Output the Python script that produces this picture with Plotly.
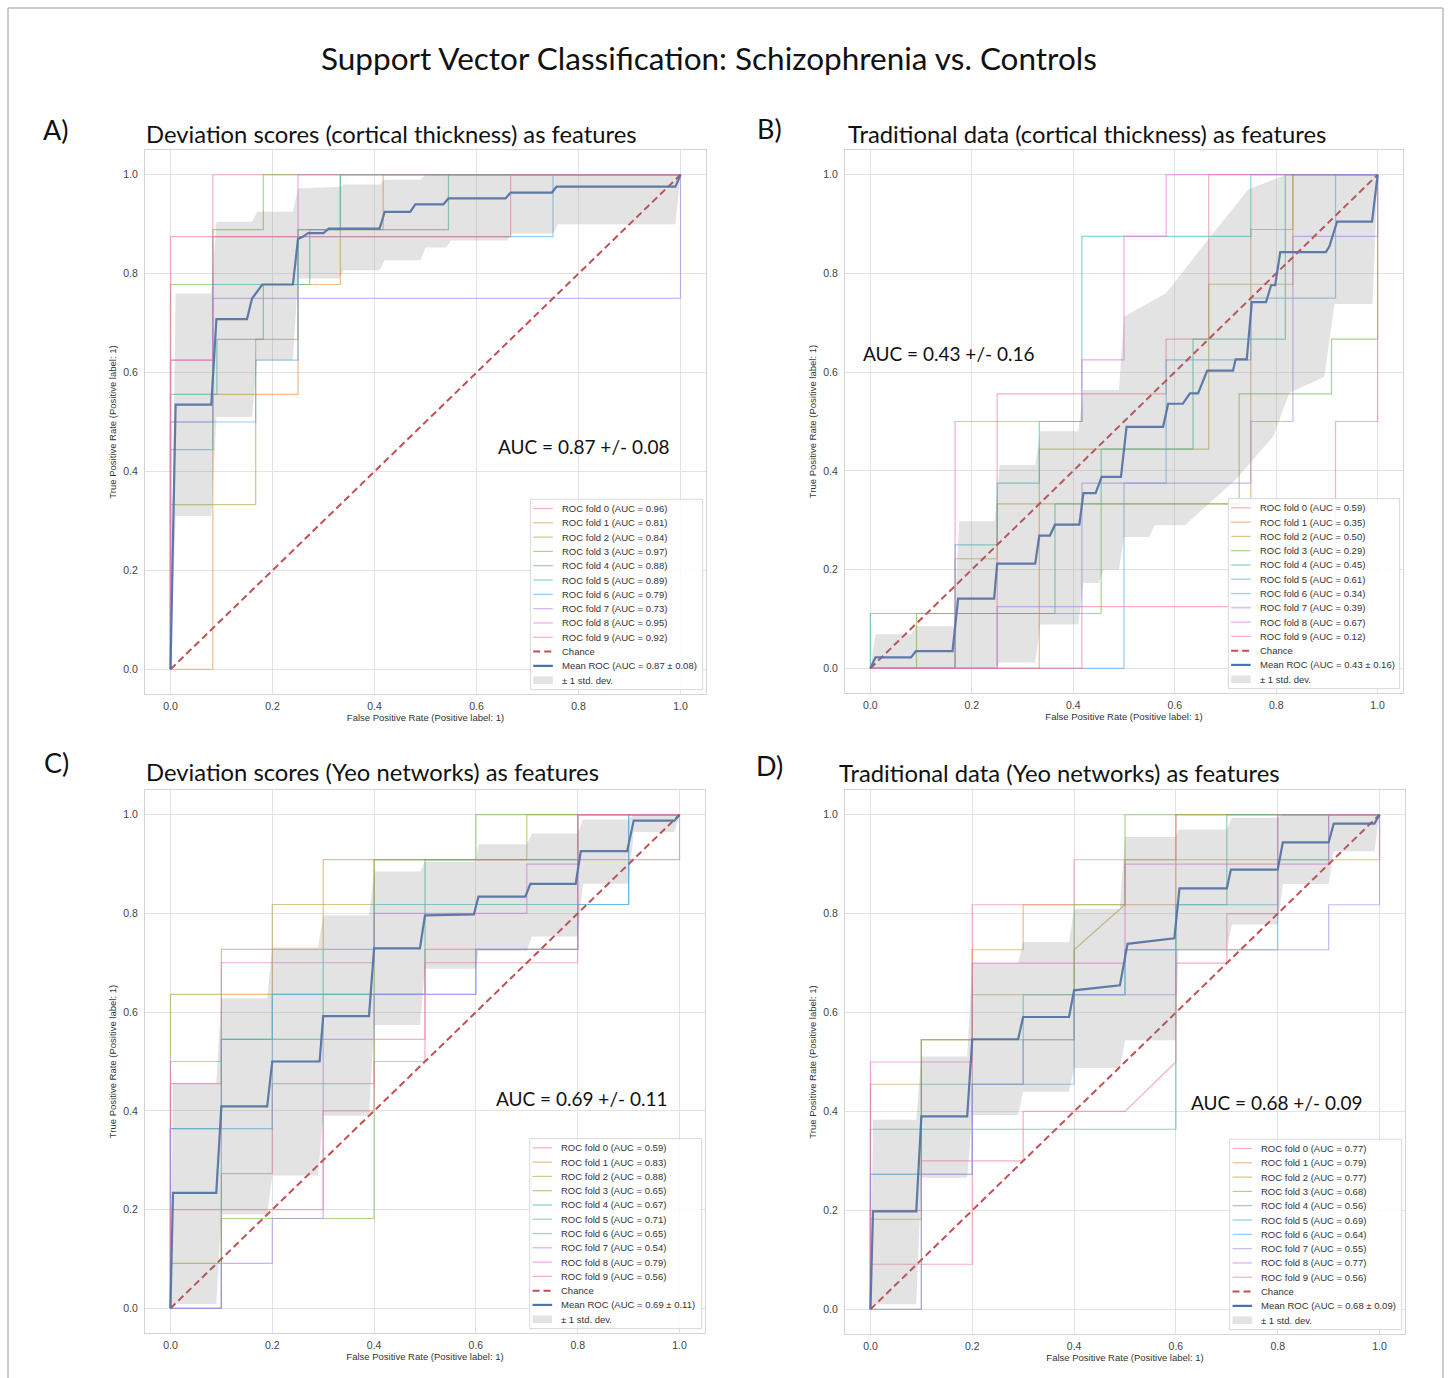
import plotly.graph_objects as go

W, H = 1448, 1378

TICKS = [0.0, 0.2, 0.4, 0.6, 0.8, 1.0]
TICK_LABELS = ["0.0", "0.2", "0.4", "0.6", "0.8", "1.0"]
FOLD_COLORS = ["#f27c92", "#e0903e", "#b3a443", "#6fbc48", "#3db98a", "#3bbabf",
               "#55aae8", "#a987f0", "#ea6fdc", "#f4799a"]
MEAN_COLOR = "#4c72b0"
CHANCE_COLOR = "#c44e52"
CHANCE_X = [0, 1]
CHANCE_Y = [0, 1]

# ---------------- Panel A: deviation scores (cortical thickness) ----------------
A_fpr = [
    [0, 0, 0.083, 0.083, 1],
    [0, 0.083, 0.083, 0.25, 0.25, 0.333, 0.333, 0.417, 0.417, 1],
    [0, 0, 0.167, 0.167, 0.25, 0.25, 0.333, 0.333, 1],
    [0, 0, 0.083, 0.083, 0.182, 0.182, 1],
    [0, 0, 0.091, 0.091, 0.182, 0.182, 0.273, 0.273, 0.545, 0.545, 1],
    [0, 0, 0.083, 0.083, 0.25, 0.25, 0.333, 0.333, 1],
    [0, 0, 0.167, 0.167, 0.25, 0.25, 0.75, 0.75, 1],
    [0, 0, 0.083, 0.083, 1, 1],
    [0, 0, 0.083, 0.083, 0.25, 0.25, 1],
    [0, 0, 0.667, 0.667, 1],
]
A_tpr = [
    [0, 0.625, 0.625, 1, 1],
    [0, 0, 0.556, 0.556, 0.778, 0.778, 0.889, 0.889, 1, 1],
    [0, 0.333, 0.333, 0.667, 0.667, 0.889, 0.889, 1, 1],
    [0, 0.778, 0.778, 0.889, 0.889, 1, 1],
    [0, 0.556, 0.556, 0.667, 0.667, 0.778, 0.778, 0.889, 0.889, 1, 1],
    [0, 0.444, 0.444, 0.778, 0.778, 0.889, 0.889, 1, 1],
    [0, 0.5, 0.5, 0.625, 0.625, 0.875, 0.875, 1, 1],
    [0, 0.5, 0.5, 0.75, 0.75, 1],
    [0, 0.625, 0.625, 0.875, 0.875, 1, 1],
    [0, 0.875, 0.875, 1, 1],
]
A_mean_x = [0, 0.01, 0.08, 0.09, 0.15, 0.16, 0.18, 0.24, 0.25, 0.26, 0.27, 0.30, 0.31, 0.41, 0.42,
            0.47, 0.48, 0.535, 0.545, 0.657, 0.667, 0.748, 0.757, 0.99, 1.0]
A_mean_y = [0, 0.535, 0.535, 0.708, 0.708, 0.75, 0.778, 0.778, 0.87, 0.875, 0.882, 0.882, 0.891, 0.891, 0.925,
            0.925, 0.94, 0.94, 0.952, 0.952, 0.964, 0.964, 0.976, 0.976, 1.0]
A_hi_x = [0, 0.01, 0.08, 0.09, 0.16, 0.17, 0.24, 0.25, 0.33, 0.34, 0.41, 0.42, 0.49, 0.5, 1.0]
A_hi_y = [0, 0.76, 0.76, 0.905, 0.905, 0.925, 0.925, 0.972, 0.975, 0.98, 0.98, 0.99, 0.99, 1.0, 1.0]
A_lo_x = [0, 0.01, 0.08, 0.09, 0.16, 0.17, 0.24, 0.25, 0.33, 0.34, 0.41, 0.42, 0.49, 0.5, 0.54, 0.55,
          0.66, 0.67, 0.75, 0.76, 0.99, 1.0]
A_lo_y = [0, 0.31, 0.31, 0.51, 0.51, 0.625, 0.625, 0.79, 0.79, 0.807, 0.807, 0.827, 0.827, 0.853, 0.853, 0.867,
          0.867, 0.881, 0.881, 0.90, 0.90, 1.0]
A_fold_auc = [0.96, 0.81, 0.84, 0.97, 0.88, 0.89, 0.79, 0.73, 0.95, 0.92]
A_mean_auc, A_std_auc = 0.87, 0.08

# ---------------- Panel B: traditional data (cortical thickness) ----------------
B_fpr = [
    [0, 0.25, 0.25, 0.583, 0.583, 0.667, 0.667, 1],
    [0, 0.333, 0.333, 0.75, 0.75, 0.833, 0.833, 1],
    [0, 0.167, 0.167, 0.25, 0.25, 0.333, 0.333, 0.667, 0.667, 0.75, 0.75, 0.833, 0.833, 1],
    [0, 0.091, 0.091, 0.455, 0.455, 0.727, 0.727, 0.909, 0.909, 1, 1],
    [0, 0, 0.364, 0.364, 0.455, 0.455, 0.636, 0.636, 0.818, 0.818, 1],
    [0, 0.167, 0.167, 0.25, 0.25, 0.333, 0.333, 0.417, 0.417, 0.75, 0.75, 1],
    [0, 0.5, 0.5, 0.583, 0.583, 0.75, 0.75, 0.917, 0.917, 1],
    [0, 0.25, 0.25, 0.417, 0.417, 0.75, 0.75, 0.833, 0.833, 1, 1],
    [0, 0.167, 0.167, 0.417, 0.417, 0.5, 0.5, 0.583, 0.583, 1],
    [0, 0.417, 0.417, 0.917, 0.917, 1, 1],
]
B_tpr = [
    [0, 0, 0.556, 0.556, 0.667, 0.667, 1, 1],
    [0, 0, 0.333, 0.333, 0.778, 0.778, 1, 1],
    [0, 0, 0.222, 0.222, 0.333, 0.333, 0.444, 0.444, 0.778, 0.778, 0.889, 0.889, 1, 1],
    [0, 0, 0.111, 0.111, 0.333, 0.333, 0.556, 0.556, 0.667, 0.667, 1],
    [0, 0.111, 0.111, 0.333, 0.333, 0.444, 0.444, 0.667, 0.667, 1, 1],
    [0, 0, 0.25, 0.25, 0.375, 0.375, 0.5, 0.5, 0.875, 0.875, 1, 1],
    [0, 0, 0.375, 0.375, 0.625, 0.625, 0.75, 0.75, 1, 1],
    [0, 0, 0.125, 0.125, 0.375, 0.375, 0.5, 0.5, 0.875, 0.875, 1],
    [0, 0, 0.5, 0.5, 0.625, 0.625, 0.875, 0.875, 1, 1],
    [0, 0, 0.125, 0.125, 0.5, 0.5, 1],
]
B_mean_x = [0, 0.01, 0.08, 0.09, 0.162, 0.173, 0.244, 0.25, 0.325, 0.333, 0.354, 0.364, 0.412, 0.42,
            0.444, 0.456, 0.494, 0.505, 0.577, 0.587, 0.616, 0.63, 0.646, 0.664, 0.715, 0.72, 0.742,
            0.752, 0.78, 0.79, 0.798, 0.808, 0.898, 0.905, 0.92, 0.989, 1.0]
B_mean_y = [0, 0.022, 0.022, 0.035, 0.035, 0.141, 0.141, 0.212, 0.212, 0.269, 0.269, 0.291, 0.291, 0.355,
            0.355, 0.388, 0.388, 0.489, 0.489, 0.536, 0.536, 0.557, 0.557, 0.603, 0.603, 0.626, 0.626,
            0.742, 0.742, 0.776, 0.776, 0.843, 0.843, 0.855, 0.905, 0.905, 1.0]
B_hi_x = [0, 0.01, 0.08, 0.09, 0.165, 0.175, 0.245, 0.255, 0.325, 0.335, 0.41, 0.42, 0.49, 0.5, 0.583,
          0.66, 0.745, 0.82, 1.0]
B_hi_y = [0, 0.069, 0.069, 0.085, 0.085, 0.298, 0.298, 0.412, 0.412, 0.48, 0.48, 0.564, 0.564, 0.712,
          0.76, 0.861, 0.97, 1.0, 1.0]
B_lo_x = [0, 0.245, 0.255, 0.325, 0.335, 0.41, 0.42, 0.45, 0.46, 0.49, 0.5, 0.55, 0.56, 0.62, 0.66,
          0.72, 0.795, 0.826, 0.895, 0.915, 0.99, 1.0]
B_lo_y = [0, 0, 0.012, 0.012, 0.089, 0.089, 0.173, 0.173, 0.2, 0.2, 0.266, 0.266, 0.29, 0.29, 0.327,
          0.382, 0.471, 0.558, 0.59, 0.738, 0.738, 1.0]
B_fold_auc = [0.59, 0.35, 0.50, 0.29, 0.45, 0.61, 0.34, 0.39, 0.67, 0.12]
B_mean_auc, B_std_auc = 0.43, 0.16

# ---------------- Panel C: deviation scores (Yeo networks) ----------------
C_fpr = [
    [0, 0.1, 0.1, 0.2, 0.2, 0.4, 0.4, 0.5, 0.5, 0.8, 0.8, 1],
    [0, 0, 0.1, 0.1, 0.2, 0.2, 0.3, 0.3, 0.8, 0.8, 1],
    [0, 0, 0.1, 0.1, 0.2, 0.2, 0.4, 0.4, 0.7, 0.7, 1],
    [0, 0, 0.1, 0.1, 0.4, 0.4, 0.6, 0.6, 1],
    [0, 0.1, 0.1, 0.3, 0.3, 0.5, 0.5, 0.8, 0.8, 1],
    [0, 0, 0.1, 0.1, 0.2, 0.2, 0.3, 0.3, 0.4, 0.4, 0.9, 0.9, 1],
    [0, 0, 0.2, 0.2, 0.6, 0.6, 0.8, 0.8, 0.9, 0.9, 1],
    [0, 0.1, 0.1, 0.2, 0.2, 0.3, 0.3, 0.4, 0.4, 0.6, 0.6, 0.8, 0.8, 1, 1],
    [0, 0, 0.1, 0.1, 0.4, 0.4, 0.7, 0.7, 0.8, 0.8, 1],
    [0, 0, 0.3, 0.3, 0.4, 0.4, 0.5, 0.5, 0.8, 0.8, 1],
]
C_tpr = [
    [0, 0, 0.273, 0.273, 0.455, 0.455, 0.545, 0.545, 0.727, 0.727, 1, 1],
    [0, 0.455, 0.455, 0.636, 0.636, 0.727, 0.727, 0.909, 0.909, 1, 1],
    [0, 0.636, 0.636, 0.727, 0.727, 0.818, 0.818, 0.909, 0.909, 1, 1],
    [0, 0.091, 0.091, 0.182, 0.182, 0.909, 0.909, 1, 1],
    [0, 0, 0.545, 0.545, 0.636, 0.636, 0.909, 0.909, 1, 1],
    [0, 0.364, 0.364, 0.545, 0.545, 0.636, 0.636, 0.727, 0.727, 0.818, 0.818, 1, 1],
    [0, 0.364, 0.364, 0.636, 0.636, 0.727, 0.727, 0.818, 0.818, 1, 1],
    [0, 0, 0.091, 0.091, 0.182, 0.182, 0.545, 0.545, 0.636, 0.636, 0.727, 0.727, 0.909, 0.909, 1],
    [0, 0.5, 0.5, 0.7, 0.7, 0.8, 0.8, 0.9, 0.9, 1, 1],
    [0, 0.2, 0.2, 0.4, 0.4, 0.5, 0.5, 0.7, 0.7, 1, 1],
]
C_mean_x = [0, 0.005, 0.09, 0.1, 0.19, 0.2, 0.293, 0.3, 0.39, 0.4, 0.49, 0.5, 0.596, 0.605, 0.697,
            0.707, 0.796, 0.806, 0.897, 0.91, 0.99, 1.0]
C_mean_y = [0, 0.234, 0.234, 0.409, 0.409, 0.5, 0.5, 0.592, 0.592, 0.729, 0.729, 0.796, 0.798, 0.834,
            0.834, 0.86, 0.86, 0.926, 0.926, 0.988, 0.988, 1.0]
C_hi_x = [0, 0.005, 0.09, 0.1, 0.19, 0.2, 0.29, 0.3, 0.39, 0.4, 0.49, 0.5, 0.6, 0.605, 0.7, 0.71,
          0.8, 0.81, 0.9, 0.91, 1.0]
C_hi_y = [0, 0.457, 0.457, 0.628, 0.628, 0.731, 0.731, 0.796, 0.796, 0.885, 0.885, 0.905, 0.905, 0.94,
          0.94, 0.962, 0.962, 0.99, 0.99, 1.0, 1.0]
C_lo_x = [0, 0.005, 0.09, 0.1, 0.19, 0.2, 0.29, 0.3, 0.39, 0.4, 0.49, 0.5, 0.6, 0.605, 0.7, 0.71,
          0.8, 0.81, 0.9, 0.91, 0.99, 1.0]
C_lo_y = [0, 0.008, 0.008, 0.19, 0.19, 0.269, 0.269, 0.39, 0.39, 0.574, 0.574, 0.688, 0.688, 0.724,
          0.724, 0.753, 0.753, 0.86, 0.86, 0.965, 0.965, 1.0]
C_fold_auc = [0.59, 0.83, 0.88, 0.65, 0.67, 0.71, 0.65, 0.54, 0.79, 0.56]
C_mean_auc, C_std_auc = 0.69, 0.11

# ---------------- Panel D: traditional data (Yeo networks) ----------------
D_fpr = [
    [0, 0, 0.2, 0.2, 0.4, 0.4, 0.6, 0.6, 1],
    [0, 0, 0.1, 0.1, 0.2, 0.2, 0.3, 0.3, 0.6, 0.6, 1],
    [0, 0, 0.1, 0.1, 0.2, 0.2, 0.4, 0.4, 0.5, 0.5, 1, 1],
    [0, 0.1, 0.1, 0.4, 0.4, 0.5, 0.5, 1],
    [0, 0, 0.6, 0.6, 0.7, 0.7, 1],
    [0, 0, 0.1, 0.1, 0.3, 0.3, 0.5, 0.5, 0.6, 0.6, 0.8, 0.8, 0.9, 0.9, 1],
    [0, 0, 0.2, 0.2, 0.4, 0.4, 0.5, 0.5, 0.8, 0.8, 1],
    [0, 0.1, 0.1, 0.2, 0.2, 0.3, 0.3, 0.4, 0.4, 0.6, 0.6, 0.9, 0.9, 1, 1],
    [0, 0, 0.2, 0.2, 0.5, 0.5, 0.9, 0.9, 1],
    [0, 0, 0.1, 0.1, 0.3, 0.3, 0.5, 0.6, 0.6, 0.7, 0.7, 0.8, 0.8, 1],
]
D_tpr = [
    [0, 0.091, 0.091, 0.818, 0.818, 0.909, 0.909, 1, 1],
    [0, 0.455, 0.455, 0.545, 0.545, 0.727, 0.727, 0.818, 0.818, 1, 1],
    [0, 0.182, 0.182, 0.545, 0.545, 0.636, 0.636, 0.727, 0.818, 0.909, 0.909, 1],
    [0, 0, 0.545, 0.545, 0.818, 0.818, 1, 1],
    [0, 0.364, 0.364, 0.818, 0.818, 1, 1],
    [0, 0.273, 0.273, 0.455, 0.455, 0.636, 0.636, 0.727, 0.727, 0.818, 0.818, 0.909, 0.909, 1, 1],
    [0, 0.273, 0.273, 0.455, 0.455, 0.636, 0.636, 0.727, 0.727, 1, 1],
    [0, 0, 0.273, 0.273, 0.455, 0.455, 0.545, 0.545, 0.636, 0.636, 0.727, 0.727, 0.818, 0.818, 1],
    [0, 0.5, 0.5, 0.7, 0.7, 0.9, 0.9, 1, 1],
    [0, 0.2, 0.2, 0.3, 0.3, 0.4, 0.4, 0.5, 0.7, 0.7, 0.8, 0.8, 1, 1],
]
D_mean_x = [0, 0.005, 0.09, 0.1, 0.19, 0.2, 0.29, 0.3, 0.39, 0.4, 0.49, 0.505, 0.597, 0.607, 0.70,
            0.708, 0.8, 0.81, 0.9, 0.91, 0.99, 1.0]
D_mean_y = [0, 0.198, 0.198, 0.39, 0.39, 0.546, 0.546, 0.591, 0.591, 0.645, 0.655, 0.739, 0.75, 0.851,
            0.851, 0.889, 0.889, 0.944, 0.944, 0.982, 0.982, 1.0]
D_hi_x = [0, 0.005, 0.09, 0.1, 0.19, 0.2, 0.29, 0.3, 0.39, 0.4, 0.49, 0.5, 0.6, 0.605, 0.7, 0.71,
          0.8, 0.81, 1.0]
D_hi_y = [0, 0.383, 0.383, 0.511, 0.511, 0.70, 0.70, 0.742, 0.742, 0.81, 0.81, 0.955, 0.955, 0.97,
          0.97, 0.994, 0.994, 1.0, 1.0]
D_lo_x = [0, 0.005, 0.09, 0.1, 0.19, 0.2, 0.29, 0.3, 0.39, 0.4, 0.49, 0.5, 0.6, 0.605, 0.7, 0.71,
          0.8, 0.81, 0.9, 0.91, 0.99, 1.0]
D_lo_y = [0, 0.01, 0.01, 0.266, 0.266, 0.393, 0.393, 0.44, 0.44, 0.488, 0.488, 0.544, 0.544, 0.728,
          0.728, 0.778, 0.778, 0.86, 0.86, 0.926, 0.926, 1.0]
D_fold_auc = [0.77, 0.79, 0.77, 0.68, 0.56, 0.69, 0.64, 0.55, 0.77, 0.56]
D_mean_auc, D_std_auc = 0.68, 0.09

MAIN_TITLE = "Support Vector Classification: Schizophrenia vs. Controls"
PANEL_LABELS = ["A)", "B)", "C)", "D)"]
PANEL_TITLES = ["Deviation scores (cortical thickness) as features",
                "Traditional data (cortical thickness) as features",
                "Deviation scores (Yeo networks) as features",
                "Traditional data (Yeo networks) as features"]
X_TITLE = "False Positive Rate (Positive label: 1)"
Y_TITLE = "True Positive Rate (Positive label: 1)"

# ---------------- layout geometry (pixels) ----------------
# axes frame boxes: left, right, top, bottom
FRAMES = [(145, 706, 150, 694), (845, 1403, 150, 693), (145, 705, 790, 1333), (845, 1405, 790, 1334)]
LABEL_POS = [(56, 130), (769, 128), (56, 763), (769, 765)]
TITLE_POS = [(144, 134), (846, 134), (144, 772), (837, 773)]
AUC_POS = [(583, 446), (948, 353), (581, 1098), (1276, 1102)]

panels = [
    (A_fpr, A_tpr, A_mean_x, A_mean_y, A_hi_x, A_hi_y, A_lo_x, A_lo_y, A_fold_auc, A_mean_auc, A_std_auc),
    (B_fpr, B_tpr, B_mean_x, B_mean_y, B_hi_x, B_hi_y, B_lo_x, B_lo_y, B_fold_auc, B_mean_auc, B_std_auc),
    (C_fpr, C_tpr, C_mean_x, C_mean_y, C_hi_x, C_hi_y, C_lo_x, C_lo_y, C_fold_auc, C_mean_auc, C_std_auc),
    (D_fpr, D_tpr, D_mean_x, D_mean_y, D_hi_x, D_hi_y, D_lo_x, D_lo_y, D_fold_auc, D_mean_auc, D_std_auc),
]

SMALL_FONT = "Liberation Sans, Arial, sans-serif"
BIG_FONT = "Lato, Carlito, Calibri, sans-serif"

fig = go.Figure()
layout_axes = {}
annotations = []
shapes = []

for i, (fpr, tpr, mx, my, hx, hy, lx, ly, faucs, mauc, sauc) in enumerate(panels):
    n = "" if i == 0 else str(i + 1)
    xa, ya = "x" + n, "y" + n
    for k in range(10):
        fig.add_trace(go.Scatter(x=fpr[k], y=tpr[k], mode="lines", xaxis=xa, yaxis=ya,
                                 line=dict(color=FOLD_COLORS[k], width=1.2), opacity=0.6,
                                 showlegend=False, hoverinfo="skip"))
    fig.add_trace(go.Scatter(x=CHANCE_X, y=CHANCE_Y, mode="lines", xaxis=xa, yaxis=ya,
                             line=dict(color=CHANCE_COLOR, width=2, dash="7px,4px"),
                             showlegend=False, hoverinfo="skip"))
    fig.add_trace(go.Scatter(x=mx, y=my, mode="lines", xaxis=xa, yaxis=ya,
                             line=dict(color=MEAN_COLOR, width=2.2), opacity=0.95,
                             showlegend=False, hoverinfo="skip"))
    fig.add_trace(go.Scatter(x=hx + lx[::-1], y=hy + ly[::-1], mode="lines", fill="toself",
                             xaxis=xa, yaxis=ya, line=dict(width=0),
                             fillcolor="rgba(128,128,128,0.22)",
                             showlegend=False, hoverinfo="skip"))

    l, r, t, b = FRAMES[i]
    xdom = [l / W, r / W]
    ydom = [1 - b / H, 1 - t / H]
    common = dict(range=[-0.05, 1.05], tickvals=TICKS, ticktext=TICK_LABELS, showgrid=True,
                  gridcolor="#e3e3e3", gridwidth=1, zeroline=False, showline=True,
                  linecolor="#d4d4d4", linewidth=1, mirror=True, ticks="",
                  tickfont=dict(family=SMALL_FONT, size=10.5, color="#444444"))
    xkey = "xaxis" + n
    ykey = "yaxis" + n
    layout_axes[xkey] = dict(common, domain=xdom, anchor=ya, ticklabelstandoff=2,
                             title=dict(text=X_TITLE, font=dict(family=SMALL_FONT, size=9.5, color="#333333"),
                                        standoff=2))
    layout_axes[ykey] = dict(common, domain=ydom, anchor=xa, ticklabelstandoff=4,
                             title=dict(text=Y_TITLE, font=dict(family=SMALL_FONT, size=9.5, color="#333333"),
                                        standoff=4))

    # panel label, subtitle, AUC text
    lx_, ly_ = LABEL_POS[i]
    annotations.append(dict(text=PANEL_LABELS[i], x=lx_ / W, y=1 - ly_ / H, xref="paper", yref="paper",
                            xanchor="center", yanchor="middle", showarrow=False,
                            font=dict(family=BIG_FONT, size=27, color="#111111")))
    tx, ty = TITLE_POS[i]
    annotations.append(dict(text=PANEL_TITLES[i], x=tx / W, y=1 - ty / H, xref="paper", yref="paper",
                            xanchor="left", yanchor="middle", showarrow=False,
                            font=dict(family=BIG_FONT, size=23.8, color="#111111")))
    ax_, ay_ = AUC_POS[i]
    annotations.append(dict(text=f"AUC = {mauc:.2f} +/- {sauc:.2f}", x=ax_ / W, y=1 - ay_ / H,
                            xref="paper", yref="paper", xanchor="center", yanchor="middle", showarrow=False,
                            font=dict(family=BIG_FONT, size=19, color="#111111")))

    # legend (matplotlib-style, inside lower right)
    dx, dy = xa + " domain", ya + " domain"
    shapes.append(dict(type="rect", xref=dx, yref=dy, x0=0.687, x1=0.994, y0=0.008, y1=0.358,
                       line=dict(color="#d8d8d8", width=1), fillcolor="rgba(255,255,255,0.85)",
                       layer="above"))
    labels = [f"ROC fold {k} (AUC = {faucs[k]:.2f})" for k in range(10)]
    labels += ["Chance", f"Mean ROC (AUC = {mauc:.2f} \u00b1 {sauc:.2f})", "\u00b1 1 std. dev."]
    row0, step = 0.341, 0.0263
    for j, lab in enumerate(labels):
        yy = row0 - j * step
        if j < 10:
            shapes.append(dict(type="line", xref=dx, yref=dy, x0=0.692, x1=0.727, y0=yy, y1=yy,
                               line=dict(color=FOLD_COLORS[j], width=1.2), opacity=0.6, layer="above"))
        elif j == 10:
            shapes.append(dict(type="line", xref=dx, yref=dy, x0=0.692, x1=0.727, y0=yy, y1=yy,
                               line=dict(color=CHANCE_COLOR, width=2, dash="7px,4px"), layer="above"))
        elif j == 11:
            shapes.append(dict(type="line", xref=dx, yref=dy, x0=0.692, x1=0.727, y0=yy, y1=yy,
                               line=dict(color=MEAN_COLOR, width=2.2), layer="above"))
        else:
            shapes.append(dict(type="rect", xref=dx, yref=dy, x0=0.692, x1=0.727, y0=yy - 0.007,
                               y1=yy + 0.007, line=dict(width=0),
                               fillcolor="rgba(128,128,128,0.22)", layer="above"))
        annotations.append(dict(text=lab, x=0.740, y=yy, xref=dx, yref=dy, xanchor="left",
                                yanchor="middle", showarrow=False,
                                font=dict(family=SMALL_FONT, size=9.5, color="#333333")))

annotations.append(dict(text=MAIN_TITLE, x=709 / W, y=1 - 58 / H, xref="paper", yref="paper",
                        xanchor="center", yanchor="middle", showarrow=False,
                        font=dict(family=BIG_FONT, size=31.5, color="#111111")))

# outer frame of the figure
shapes.append(dict(type="rect", xref="paper", yref="paper", x0=8 / W, x1=1443 / W, y0=-0.01, y1=1 - 8 / H,
                   line=dict(color="#9a9a9a", width=1), fillcolor="rgba(0,0,0,0)", layer="below"))

fig.update_layout(width=W, height=H, margin=dict(l=0, r=0, t=0, b=0),
                  paper_bgcolor="white", plot_bgcolor="white", showlegend=False,
                  annotations=annotations, shapes=shapes, **layout_axes)

fig.write_html("out.html")
